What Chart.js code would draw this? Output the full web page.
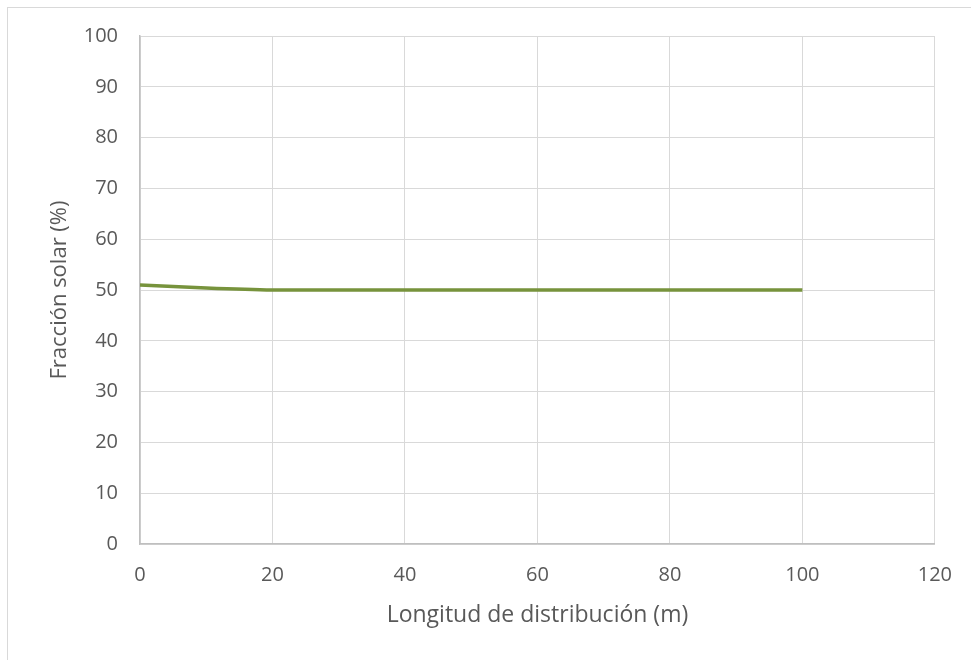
<!DOCTYPE html>
<html>
<head>
<meta charset="utf-8">
<script src="https://cdn.jsdelivr.net/npm/chart.js@4/dist/chart.umd.min.js"></script>
<style>
  html, body { margin: 0; padding: 0; background: #fff; }
  #wrap { position: relative; width: 971px; height: 660px; overflow: hidden; }
  #frame { position: absolute; left: 7px; top: 7px; width: 1000px; height: 700px;
           border: 1px solid #D9D9D9; box-sizing: border-box; }
  canvas { position: absolute; left: 0; top: 0; }
</style>
</head>
<body>
<div id="wrap">
  <div id="frame"></div>
  <canvas id="c" width="971" height="660"></canvas>
</div>
<script>
// Distribution length (m) and resulting solar fraction (%)
const longitud = [0, 10, 20, 30, 40, 50, 60, 70, 80, 90, 100];
const fraccionSolar = [51, 50.4, 50, 50, 50, 50, 50, 50, 50, 50, 50];
const xTicks = [0, 20, 40, 60, 80, 100, 120];
const yTicks = [0, 10, 20, 30, 40, 50, 60, 70, 80, 90, 100];

const FONT = '"Open Sans", sans-serif';
const TEXT = '#595959';

const points = longitud.map((x, i) => ({ x: x, y: fraccionSolar[i] }));

new Chart(document.getElementById('c'), {
  type: 'line',
  data: {
    datasets: [{
      data: points,
      borderColor: '#77933C',
      borderWidth: 3.5,
      pointRadius: 0,
      tension: 0.3,
      fill: false
    }]
  },
  options: {
    responsive: false,
    animation: false,
    layout: { padding: { left: 47, top: 36, right: 35, bottom: 31 } },
    plugins: { legend: { display: false }, tooltip: { enabled: false } },
    scales: {
      x: {
        type: 'linear',
        min: xTicks[0],
        max: xTicks[xTicks.length - 1],
        afterBuildTicks: s => { s.ticks = xTicks.map(v => ({ value: v })); },
        afterFit: s => { s.height = 660 - 544 - 31; },
        grid: { color: '#D9D9D9', lineWidth: 1, drawTicks: false },
        border: { color: '#BFBFBF', width: 1.5 },
        ticks: { color: TEXT, font: { family: FONT, size: 20 }, padding: 19, maxRotation: 0 },
        title: {
          display: true,
          text: 'Longitud de distribución (m)',
          color: TEXT,
          font: { family: FONT, size: 23 },
          padding: { top: 10, bottom: 0 }
        }
      },
      y: {
        type: 'linear',
        min: yTicks[0],
        max: yTicks[yTicks.length - 1],
        afterBuildTicks: s => { s.ticks = yTicks.map(v => ({ value: v })); },
        afterFit: s => { s.width = 140 - 47; },
        grid: { color: '#D9D9D9', lineWidth: 1, drawTicks: false },
        border: { color: '#BFBFBF', width: 1.5 },
        ticks: { color: TEXT, font: { family: FONT, size: 20 }, padding: 22 },
        title: {
          display: true,
          text: 'Fracción solar (%)',
          color: TEXT,
          font: { family: FONT, size: 22 },
          padding: { top: 0, bottom: 6 }
        }
      }
    }
  }
});
</script>
</body>
</html>
